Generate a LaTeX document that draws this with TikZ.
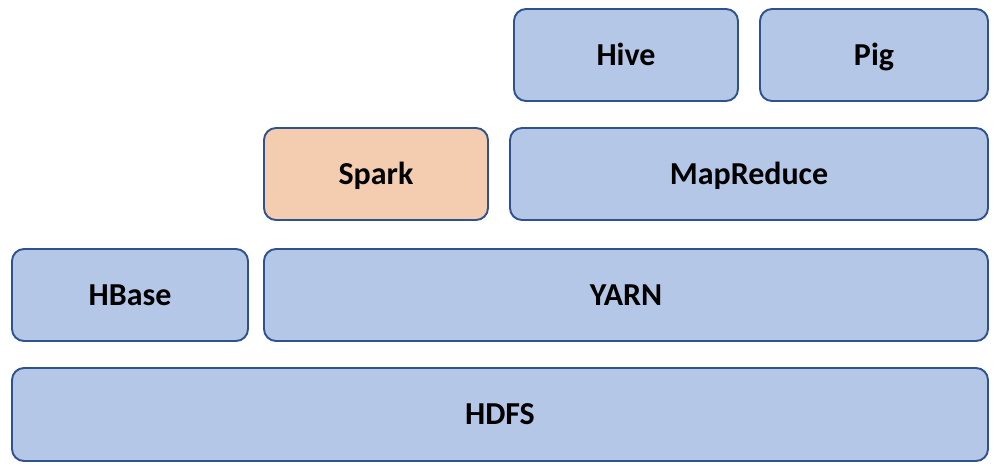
\documentclass[tikz,border=0pt]{standalone}
\usepackage{fontspec}
\setmainfont{Carlito}
\usepackage{tikz}

\definecolor{layerfill}{HTML}{B4C7E7}
\definecolor{sparkfill}{HTML}{F4CCB0}
\definecolor{layerline}{HTML}{2F528F}

\begin{document}
\begin{tikzpicture}[x=0.02cm,y=-0.02cm,
  layer/.style={draw=layerline, line width=1.1pt, fill=layerfill,
    rounded corners=0.24cm, inner sep=0pt, outer sep=0pt,
    minimum height=92*0.02cm, text height=11.7pt, text depth=0pt,
    font=\fontsize{18.2}{20}\selectfont\bfseries}]
% Frame
\useasboundingbox (0,0) rectangle (1000,476);

% Top row
\node[layer, minimum width=224*0.02cm] (hive) at (626,55) {Hive};
\node[layer, minimum width=228*0.02cm] (pig) at (874,55) {Pig};

% Processing row
\node[layer, fill=sparkfill, minimum width=224*0.02cm] (spark) at (376,174) {Spark};
\node[layer, minimum width=478*0.02cm] (mapreduce) at (749,174) {MapReduce};

% Resource row
\node[layer, minimum width=236*0.02cm] (hbase) at (130,295) {HBase};
\node[layer, minimum width=724*0.02cm] (yarn) at (626,295) {YARN};

% Storage row
\node[layer, minimum width=976*0.02cm, minimum height=93*0.02cm] (hdfs) at (500,414.5) {HDFS};
\end{tikzpicture}
\end{document}
